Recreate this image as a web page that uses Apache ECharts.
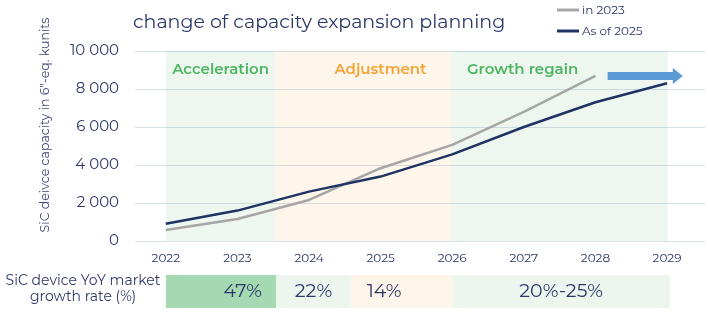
<!DOCTYPE html>
<html>
<head>
<meta charset="utf-8">
<script src="https://cdn.jsdelivr.net/npm/echarts@6/dist/echarts.min.js"></script>
<style>
html, body { margin: 0; padding: 0; background: #fff; }
#chart { width: 708px; height: 328px; }
</style>
</head>
<body>
<div id="chart"></div>
<script>
// data
const years = [2022, 2023, 2024, 2025, 2026, 2027, 2028, 2029];
const in2023 = [580, 1160, 2160, 3830, 5060, 6800, 8690];
const asOf2025 = [910, 1600, 2600, 3390, 4560, 6000, 7300, 8300];
const phaseNames = ['Acceleration', 'Adjustment', 'Growth regain'];
const phaseStart = [2022, 2023.53, 2025.99];
const phaseEnd = [2023.53, 2025.99, 2029.01];
const growthLabels = ['47%', '22%', '14%', '20%-25%'];
const growthStart = [2022, 2023.53, 2024.57, 2025.98];
const growthEnd = [2023.53, 2024.57, 2025.98, 2029];
const arrowFrom = [2028.17, 8680];
const arrowTo = [2029.15, 8680];

const FONT = 'Montserrat, "DejaVu Sans", sans-serif';
const NAVY = '#2B3868';

// translucent so the grid lines show through the bands
const phaseColors = ['rgba(77,181,98,0.1)', 'rgba(246,163,54,0.1)', 'rgba(77,181,98,0.1)'];
const phaseText = ['#4DB562', '#F6A336', '#4DB562'];
const phaseOffset = [0, 17, -37];
const growthColors = ['#A5D9B2', '#EDF6EE', '#FEF5EA', '#EDF6EE'];
const growthPos = ['insideRight', 'inside', 'insideLeft', 'inside'];

const chart = echarts.init(document.getElementById('chart'));

const option = {
    animation: false,
    textStyle: { fontFamily: FONT },
    title: {
        text: 'change of capacity expansion planning',
        left: 128,
        top: 8,
        textStyle: { fontFamily: FONT, fontSize: 19, fontWeight: 'normal', color: NAVY }
    },
    legend: {
        orient: 'vertical',
        left: 552,
        top: -1,
        icon: 'rect',
        itemWidth: 22,
        itemHeight: 3,
        itemGap: 9,
        data: ['in 2023', 'As of 2025'],
        textStyle: { fontFamily: FONT, fontSize: 12, color: NAVY, padding: [0, 0, 0, -2] }
    },
    grid: [
        { left: 135, right: 0, top: 51, bottom: 87 },
        { left: 135, right: 0, top: 275, bottom: 20 }
    ],
    xAxis: [{
        gridIndex: 0,
        type: 'value',
        min: 2021.57,
        max: 2029.53,
        splitNumber: 8,
        axisLine: { show: false },
        axisTick: { show: false },
        splitLine: { show: false },
        axisLabel: {
            margin: 11,
            fontSize: 12,
            color: NAVY,
            fontFamily: FONT,
            formatter: v => Number.isInteger(v) ? String(v) : ''
        }
    }, {
        gridIndex: 1,
        type: 'value',
        min: 2021.57,
        max: 2029.53,
        show: false
    }],
    yAxis: [{
        gridIndex: 0,
        type: 'value',
        min: 0,
        max: 10000,
        interval: 2000,
        axisLine: { show: false },
        axisTick: { show: false },
        splitLine: { lineStyle: { color: '#D8E0EE', width: 1 } },
        axisLabel: {
            margin: 16,
            fontSize: 15,
            color: NAVY,
            fontFamily: FONT,
            formatter: v => String(v).replace(/\B(?=(\d{3})+(?!\d))/g, ' ')
        },
        name: 'SiC deivce capacity in 6"-eq. kunits',
        nameLocation: 'middle',
        nameGap: 83,
        nameTextStyle: { fontFamily: FONT, fontSize: 12.5, color: '#3E4A78', padding: [0, 0, 0, 42] }
    }, {
        gridIndex: 1,
        type: 'value',
        min: 0,
        max: 1,
        show: false
    }],
    graphic: [{
        type: 'text',
        x: 83,
        y: 273,
        style: {
            text: 'SiC device YoY market\ngrowth rate (%)',
            fontFamily: FONT,
            fontSize: 14,
            lineHeight: 16,
            fill: NAVY,
            align: 'center'
        }
    }],
    series: [
        // background phases
        {
            type: 'line',
            data: [],
            z: -1,
            silent: true,
            markArea: {
                silent: true,
                data: phaseNames.map((p, i) => [{
                    name: p,
                    xAxis: phaseStart[i],
                    itemStyle: { color: phaseColors[i] },
                    label: {
                        show: true,
                        position: 'insideTop',
                        distance: 11,
                        offset: [phaseOffset[i], 0],
                        color: phaseText[i],
                        fontFamily: FONT,
                        fontSize: 15,
                        fontWeight: 600
                    }
                }, { xAxis: phaseEnd[i] }])
            }
        },
        {
            name: 'in 2023',
            type: 'line',
            symbol: 'none',
            z: 3,
            color: '#A6A6A6',
            lineStyle: { width: 2.5, color: '#A6A6A6' },
            data: in2023.map((v, i) => [years[i], v])
        },
        {
            name: 'As of 2025',
            type: 'line',
            symbol: 'none',
            z: 4,
            color: '#1F3363',
            lineStyle: { width: 2.5, color: '#1F3363' },
            data: asOf2025.map((v, i) => [years[i], v])
        },
        // blue arrow
        {
            type: 'line',
            data: [],
            z: 5,
            silent: true,
            markLine: {
                silent: true,
                symbol: ['none', 'triangle'],
                symbolSize: [16, 10],
                label: { show: false },
                lineStyle: { color: '#5B9BD5', width: 8, type: 'solid' },
                data: [[{ coord: arrowFrom }, { coord: arrowTo }]]
            }
        },
        // growth rate table
        {
            type: 'line',
            xAxisIndex: 1,
            yAxisIndex: 1,
            data: [],
            silent: true,
            markArea: {
                silent: true,
                data: growthLabels.map((g, i) => [{
                    name: g,
                    xAxis: growthStart[i],
                    itemStyle: { color: growthColors[i] },
                    label: {
                        show: true,
                        position: growthPos[i],
                        distance: i === 0 ? 14 : 16,
                        color: NAVY,
                        fontFamily: FONT,
                        fontSize: 19
                    }
                }, { xAxis: growthEnd[i] }])
            }
        }
    ]
};

chart.setOption(option);
</script>
</body>
</html>
